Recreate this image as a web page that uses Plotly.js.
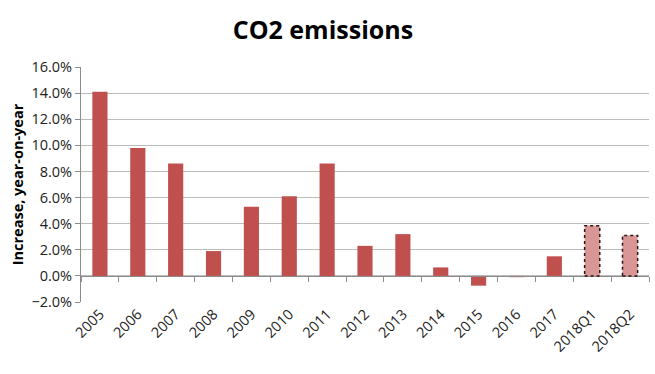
<!DOCTYPE html>
<html><head><meta charset="utf-8">
<script src="https://cdn.plot.ly/plotly-3.0.1.min.js"></script>
<style>html,body{margin:0;padding:0;background:#fff}#c{width:655px;height:374px}</style>
</head><body><div id="c"></div>
<script>
const categories = ["2005","2006","2007","2008","2009","2010","2011","2012","2013","2014","2015","2016","2017","2018Q1","2018Q2"];
const values = [14.1, 9.8, 8.6, 1.9, 5.3, 6.1, 8.6, 2.3, 3.2, 0.65, -0.75, -0.1, 1.5, 3.85, 3.1];
const isEstimate = [false,false,false,false,false,false,false,false,false,false,false,false,false,true,true];

const solid = "#C0504D", light = "#DA9694";
const barWidth = 0.4;
const traces = [{
  type: "bar", x: categories, y: values.map(v => v / 100),
  marker: {color: isEstimate.map(e => e ? light : solid), line: {width: 0}},
  width: barWidth, hoverinfo: "skip"
}, {
  type: "scatter", mode: "none", x: categories, y: categories.map(() => 0),
  xaxis: "x2", yaxis: "y", hoverinfo: "skip", showlegend: false
}];

// dashed outlines for the estimate bars, placed through the axis scales
const shapes = [];
values.forEach((v, i) => {
  if (!isEstimate[i]) return;
  shapes.push({type: "rect", xref: "x", yref: "y", x0: i - barWidth / 2, x1: i + barWidth / 2,
               y0: 0, y1: v / 100, line: {color: "#2a1616", width: 1.5, dash: "dot"}, layer: "above"});
});

const font = "'Open Sans', 'Liberation Sans', sans-serif";
const layout = {
  width: 655, height: 374,
  margin: {l: 81, r: 6, t: 67, b: 72},
  paper_bgcolor: "#fff", plot_bgcolor: "#fff",
  showlegend: false, shapes: shapes,
  title: {text: "<b>CO2 emissions</b>", x: 0.493, xanchor: "center", y: 0.92, yanchor: "middle",
          font: {family: font, size: 25, color: "#000"}},
  xaxis: {type: "category", showgrid: false, zeroline: false, showline: false, ticks: "",
          tickangle: -45, tickfont: {family: font, size: 14.5, color: "#222"}, range: [-0.5, 14.5]},
  xaxis2: {type: "category", overlaying: "x", anchor: "free", position: 2/18, matches: "x",
           showline: true, linecolor: "#8c8c8c", linewidth: 1, ticks: "outside", ticklen: 5,
           tickcolor: "#8c8c8c", tickson: "boundaries", showticklabels: false, showgrid: false},
  yaxis: {range: [-0.02, 0.16], dtick: 0.02, tickformat: ".1%", showgrid: true, gridcolor: "#bcbcbc",
          gridwidth: 1, zeroline: false, showline: true, linecolor: "#8c8c8c", ticks: "outside",
          ticklen: 5, tickcolor: "#8c8c8c", tickfont: {family: font, size: 14.5, color: "#222"},
          title: {text: "<b>Increase, year-on-year</b>", font: {family: font, size: 14.5, color: "#000"}, standoff: 4}}
};
Plotly.newPlot("c", traces, layout, {displayModeBar: false, staticPlot: true});
</script></body></html>
